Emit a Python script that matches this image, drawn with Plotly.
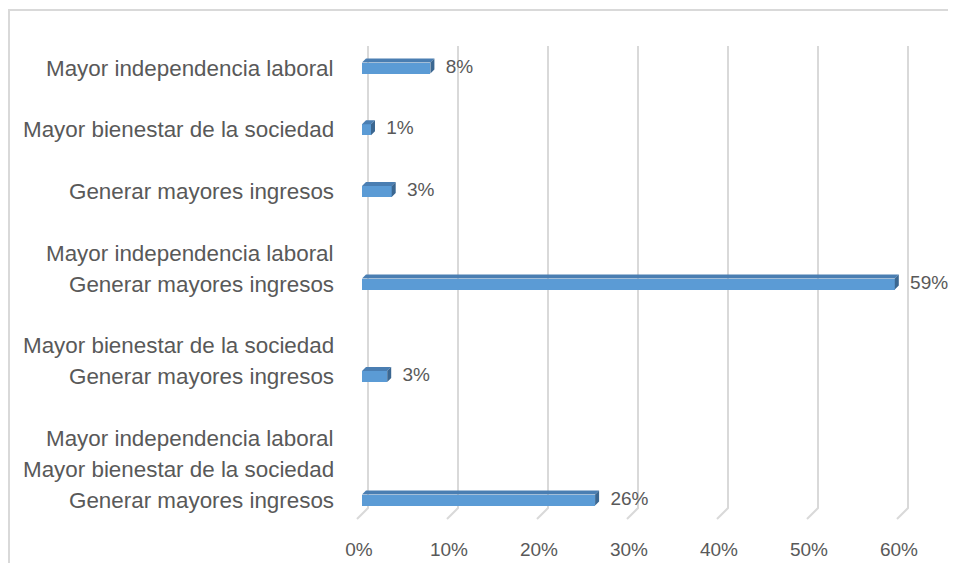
import plotly.graph_objects as go

# ---- data ----
category_lines = [
    ["Mayor independencia laboral"],
    ["Mayor bienestar de la sociedad"],
    ["Generar mayores ingresos"],
    ["Mayor independencia laboral", "Generar mayores ingresos"],
    ["Mayor bienestar de la sociedad", "Generar mayores ingresos"],
    ["Mayor independencia laboral", "Mayor bienestar de la sociedad", "Generar mayores ingresos"],
]
values = [7.6, 1.0, 3.3, 59.2, 2.8, 25.9]
tick_values = [0, 10, 20, 30, 40, 50, 60]
tick_labels = ["0%", "10%", "20%", "30%", "40%", "50%", "60%"]

# ---- layout geometry (pixels, in page coordinates; page body has 8px margin) ----
OFF = 8
W, H = 948, 555
ML, MR, MT, MB = 337, 32, 22, 30
X0_PX, X_SCALE = 362 - OFF, 9.0     # figure pixel of value 0, pixels per 1 %
Y_SCALE = 30.86                     # pixels per text line
Y_OFF = 68 - OFF - 2 * Y_SCALE

def px_y(py):
    """page y pixel -> data y"""
    return (py - OFF - Y_OFF) / Y_SCALE

PW = W - ML - MR
PH = H - MT - MB

def paper_x(px):
    return (px - OFF - ML) / PW

def paper_y(py):
    return (H - MB - (py - OFF)) / PH

# category positions derived from number of label lines
positions = []
acc = 0
for lines in category_lines:
    acc += len(lines) + 1
    positions.append(acc)

FRONT = "#5B9BD5"
TOP = "#4A7EB2"
SIDE = "#3B6791"
GRID = "#D9D9D9"
TXT = "#595959"
FONT = "Liberation Sans"

bar_h = 11 / Y_SCALE
dx = 4 / X_SCALE
dy = 4 / Y_SCALE

fig = go.Figure()
fig.add_trace(go.Bar(
    x=values, y=positions, orientation="h", width=bar_h, base=0,
    marker=dict(color=FRONT, line=dict(width=0)), hoverinfo="skip"))

top_x, top_y, side_x, side_y = [], [], [], []
for v, p in zip(values, positions):
    yt, yb = p - bar_h / 2, p + bar_h / 2
    top_x += [0, v, v + dx, dx, 0, None]
    top_y += [yt, yt, yt - dy, yt - dy, yt, None]
    side_x += [v, v, v + dx, v + dx, v, None]
    side_y += [yt, yb, yb - dy, yt - dy, yt, None]

fig.add_trace(go.Scatter(x=top_x, y=top_y, mode="lines", fill="toself",
                         fillcolor=TOP, line=dict(width=0, color=TOP),
                         hoverinfo="skip", showlegend=False))
fig.add_trace(go.Scatter(x=side_x, y=side_y, mode="lines", fill="toself",
                         fillcolor=SIDE, line=dict(width=0, color=SIDE),
                         hoverinfo="skip", showlegend=False))

fig.add_trace(go.Scatter(
    x=[v + 1.7 for v in values], y=positions, mode="text",
    text=[f"{round(v)}%" for v in values], textposition="middle right",
    textfont=dict(family=FONT, size=19, color=TXT), cliponaxis=False,
    hoverinfo="skip", showlegend=False))

# gridlines with 3D floor
shapes = []
back = (368 - 362) / X_SCALE
front = (357 - 362) / X_SCALE
for t in tick_values:
    shapes.append(dict(
        type="path", xref="x", yref="y", layer="below",
        path=f"M {t + back} {px_y(46)} L {t + back} {px_y(508)} L {t + front} {px_y(519)}",
        line=dict(color=GRID, width=2)))

# chart border (left and top edges; the rest lies outside the picture)
right_edge = paper_x(W + OFF)
bottom_edge = paper_y(H + OFF)
shapes.append(dict(type="line", xref="paper", yref="paper", layer="below",
                   x0=paper_x(9), x1=paper_x(9), y0=bottom_edge, y1=paper_y(10),
                   line=dict(color=GRID, width=2)))
shapes.append(dict(type="line", xref="paper", yref="paper", layer="below",
                   x0=paper_x(8), x1=right_edge, y0=paper_y(10), y1=paper_y(10),
                   line=dict(color=GRID, width=2)))

annotations = []
for lines, p in zip(category_lines, positions):
    n = len(lines)
    for j, line in enumerate(lines):
        annotations.append(dict(
            text=line, x=paper_x(336), xref="paper", xanchor="right",
            y=p - (n - 1 - j), yref="y", yanchor="middle",
            showarrow=False, font=dict(family=FONT, size=22.4, color=TXT)))

fig.update_layout(
    width=W, height=H, autosize=False,
    margin=dict(l=ML, r=MR, t=MT, b=MB, pad=0, autoexpand=False),
    paper_bgcolor="white", plot_bgcolor="white",
    showlegend=False, bargap=0,
    shapes=shapes, annotations=annotations,
    xaxis=dict(range=[(ML - X0_PX) / X_SCALE, (W - MR - X0_PX) / X_SCALE],
               automargin=False,
               tickvals=tick_values,
               ticktext=tick_labels, showgrid=False, zeroline=False,
               showline=False, ticks="", ticklabelshift=-3,
               ticklabelstandoff=3,
               tickfont=dict(family=FONT, size=19, color=TXT)),
    yaxis=dict(range=[px_y(H - MB + OFF), px_y(MT + OFF)], showgrid=False,
               automargin=False,
               zeroline=False, showline=False, showticklabels=False,
               ticks=""),
)

fig.write_html("out.html")
